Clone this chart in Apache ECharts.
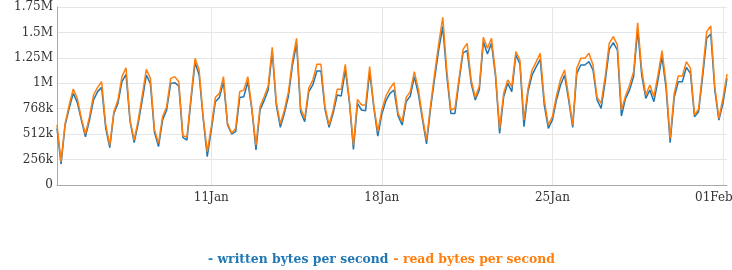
<!DOCTYPE html>
<html><head><meta charset="utf-8">
<script src="https://cdn.jsdelivr.net/npm/echarts@6/dist/echarts.min.js"></script>
<style>html,body{margin:0;padding:0;background:#fff}#c{width:732px;height:270px}</style>
</head><body><div id="c"></div>
<script>
// values in KiB/s (1M = 1024k), one point every 4 hours starting 04 Jan 16:00
const startUTC = Date.UTC(2024, 0, 4, 16);
const stepHours = 4;
const tickLabels = ['11Jan', '18Jan', '25Jan', '01Feb'];
const yTicks = [0, 256, 512, 768, 1024, 1280, 1536, 1792];
const written = [570,211,604,772,923,829,654,486,654,856,940,983,570,376,721,822,1040,1114,637,426,
621,856,1107,1020,530,386,654,755,1023,1030,997,480,453,856,1232,1107,671,285,553,839,
882,1040,604,513,537,882,889,1040,755,352,755,849,956,1342,805,580,721,896,1208,1426,
738,637,940,1007,1148,1148,762,580,721,906,896,1160,839,359,822,755,748,1141,788,493,
715,849,923,956,695,604,839,896,1091,916,661,413,772,1074,1360,1594,1100,721,721,1040,
1332,1352,1023,856,956,1443,1319,1426,1091,520,889,1023,940,1309,1218,587,940,1107,1190,1265,
805,570,654,856,1007,1107,856,580,1124,1208,1208,1242,1158,856,772,1040,1366,1433,1359,695,
870,955,1091,1567,1107,872,956,839,1057,1292,973,426,882,1040,1040,1185,1124,688,738,1091,
1477,1520,956,654,822,1074];
const read = [604,235,621,805,966,872,671,513,688,906,983,1040,604,402,738,856,1091,1181,654,453,
654,906,1164,1074,560,419,688,788,1074,1091,1040,493,486,889,1275,1158,688,335,587,882,
923,1091,621,520,570,940,956,1091,772,402,788,889,997,1386,839,614,755,940,1258,1477,
772,671,973,1057,1215,1215,788,604,755,963,963,1215,856,402,862,805,805,1191,805,537,
755,896,973,1030,721,637,882,940,1141,963,688,453,805,1124,1420,1688,1150,755,772,1074,
1366,1426,1057,882,997,1487,1376,1477,1124,570,923,1057,990,1342,1258,654,973,1158,1240,1326,
856,604,688,896,1064,1158,889,604,1174,1275,1275,1326,1208,882,822,1091,1426,1493,1410,755,
895,1005,1141,1634,1158,906,1007,889,1107,1352,1023,470,923,1097,1097,1242,1174,705,762,1141,
1544,1601,990,671,872,1117];

const months = ['Jan','Feb','Mar','Apr','May','Jun','Jul','Aug','Sep','Oct','Nov','Dec'];
const pad = n => (n < 10 ? '0' : '') + n;
const categories = written.map((_, i) => {
  const d = new Date(startUTC + i * stepHours * 3600e3);
  return pad(d.getUTCDate()) + months[d.getUTCMonth()] + ' ' + pad(d.getUTCHours()) + ':00';
});
const tickSet = new Set(tickLabels.map(t => t + ' 00:00'));
const showTick = (idx, val) => tickSet.has(categories[idx]);
const lastTick = tickLabels[tickLabels.length - 1];

const FONT = '"DejaVu Serif", serif';
const chart = echarts.init(document.getElementById('c'), null, {renderer: 'canvas'});
chart.setOption({
  animation: false,
  backgroundColor: '#fff',
  grid: {left: 57, right: 5, top: 7, bottom: 85, containLabel: false, outerBoundsMode: 'none'},
  title: {
    left: 203, top: 246,
    text: '{a|- written bytes per second} {b|- read bytes per second}',
    textStyle: {
      rich: {
        a: {color: '#1f77b4', fontFamily: FONT, fontWeight: 'bold', fontSize: 12.4},
        b: {color: '#ff7f0e', fontFamily: FONT, fontWeight: 'bold', fontSize: 12.4}
      }
    }
  },
  xAxis: {
    type: 'category', data: categories, boundaryGap: false,
    axisLine: {lineStyle: {color: '#aaa', width: 1}},
    axisTick: {show: false},
    axisLabel: {interval: showTick, color: '#333', fontFamily: FONT, fontSize: 12, margin: 7,
      formatter: v => { const t = v.split(' ')[0]; return t === lastTick ? '{r|' + t + '}' : t; },
      rich: {r: {color: '#333', fontFamily: FONT, fontSize: 12, padding: [0, 18, 0, 0]}}},
    splitLine: {show: true, interval: showTick, lineStyle: {color: '#e6e6e6', width: 1}}
  },
  yAxis: {
    type: 'value', min: yTicks[0], max: yTicks[yTicks.length - 1], interval: 256,
    axisLine: {show: true, lineStyle: {color: '#aaa', width: 1}},
    axisTick: {show: false},
    axisLabel: {color: '#333', fontFamily: FONT, fontSize: 12, margin: 4,
      formatter: v => v === 0 ? '0' : (v >= 1024 ? (v / 1024) + 'M' : v + 'k')},
    splitLine: {show: true, lineStyle: {color: '#e6e6e6', width: 1}}
  },
  series: [
    {name: 'written bytes per second', type: 'line', data: written, showSymbol: false,
      lineStyle: {color: '#1f77b4', width: 1.5}, itemStyle: {color: '#1f77b4'}},
    {name: 'read bytes per second', type: 'line', data: read, showSymbol: false,
      lineStyle: {color: '#ff7f0e', width: 1.5}, itemStyle: {color: '#ff7f0e'}}
  ]
});
</script></body></html>
